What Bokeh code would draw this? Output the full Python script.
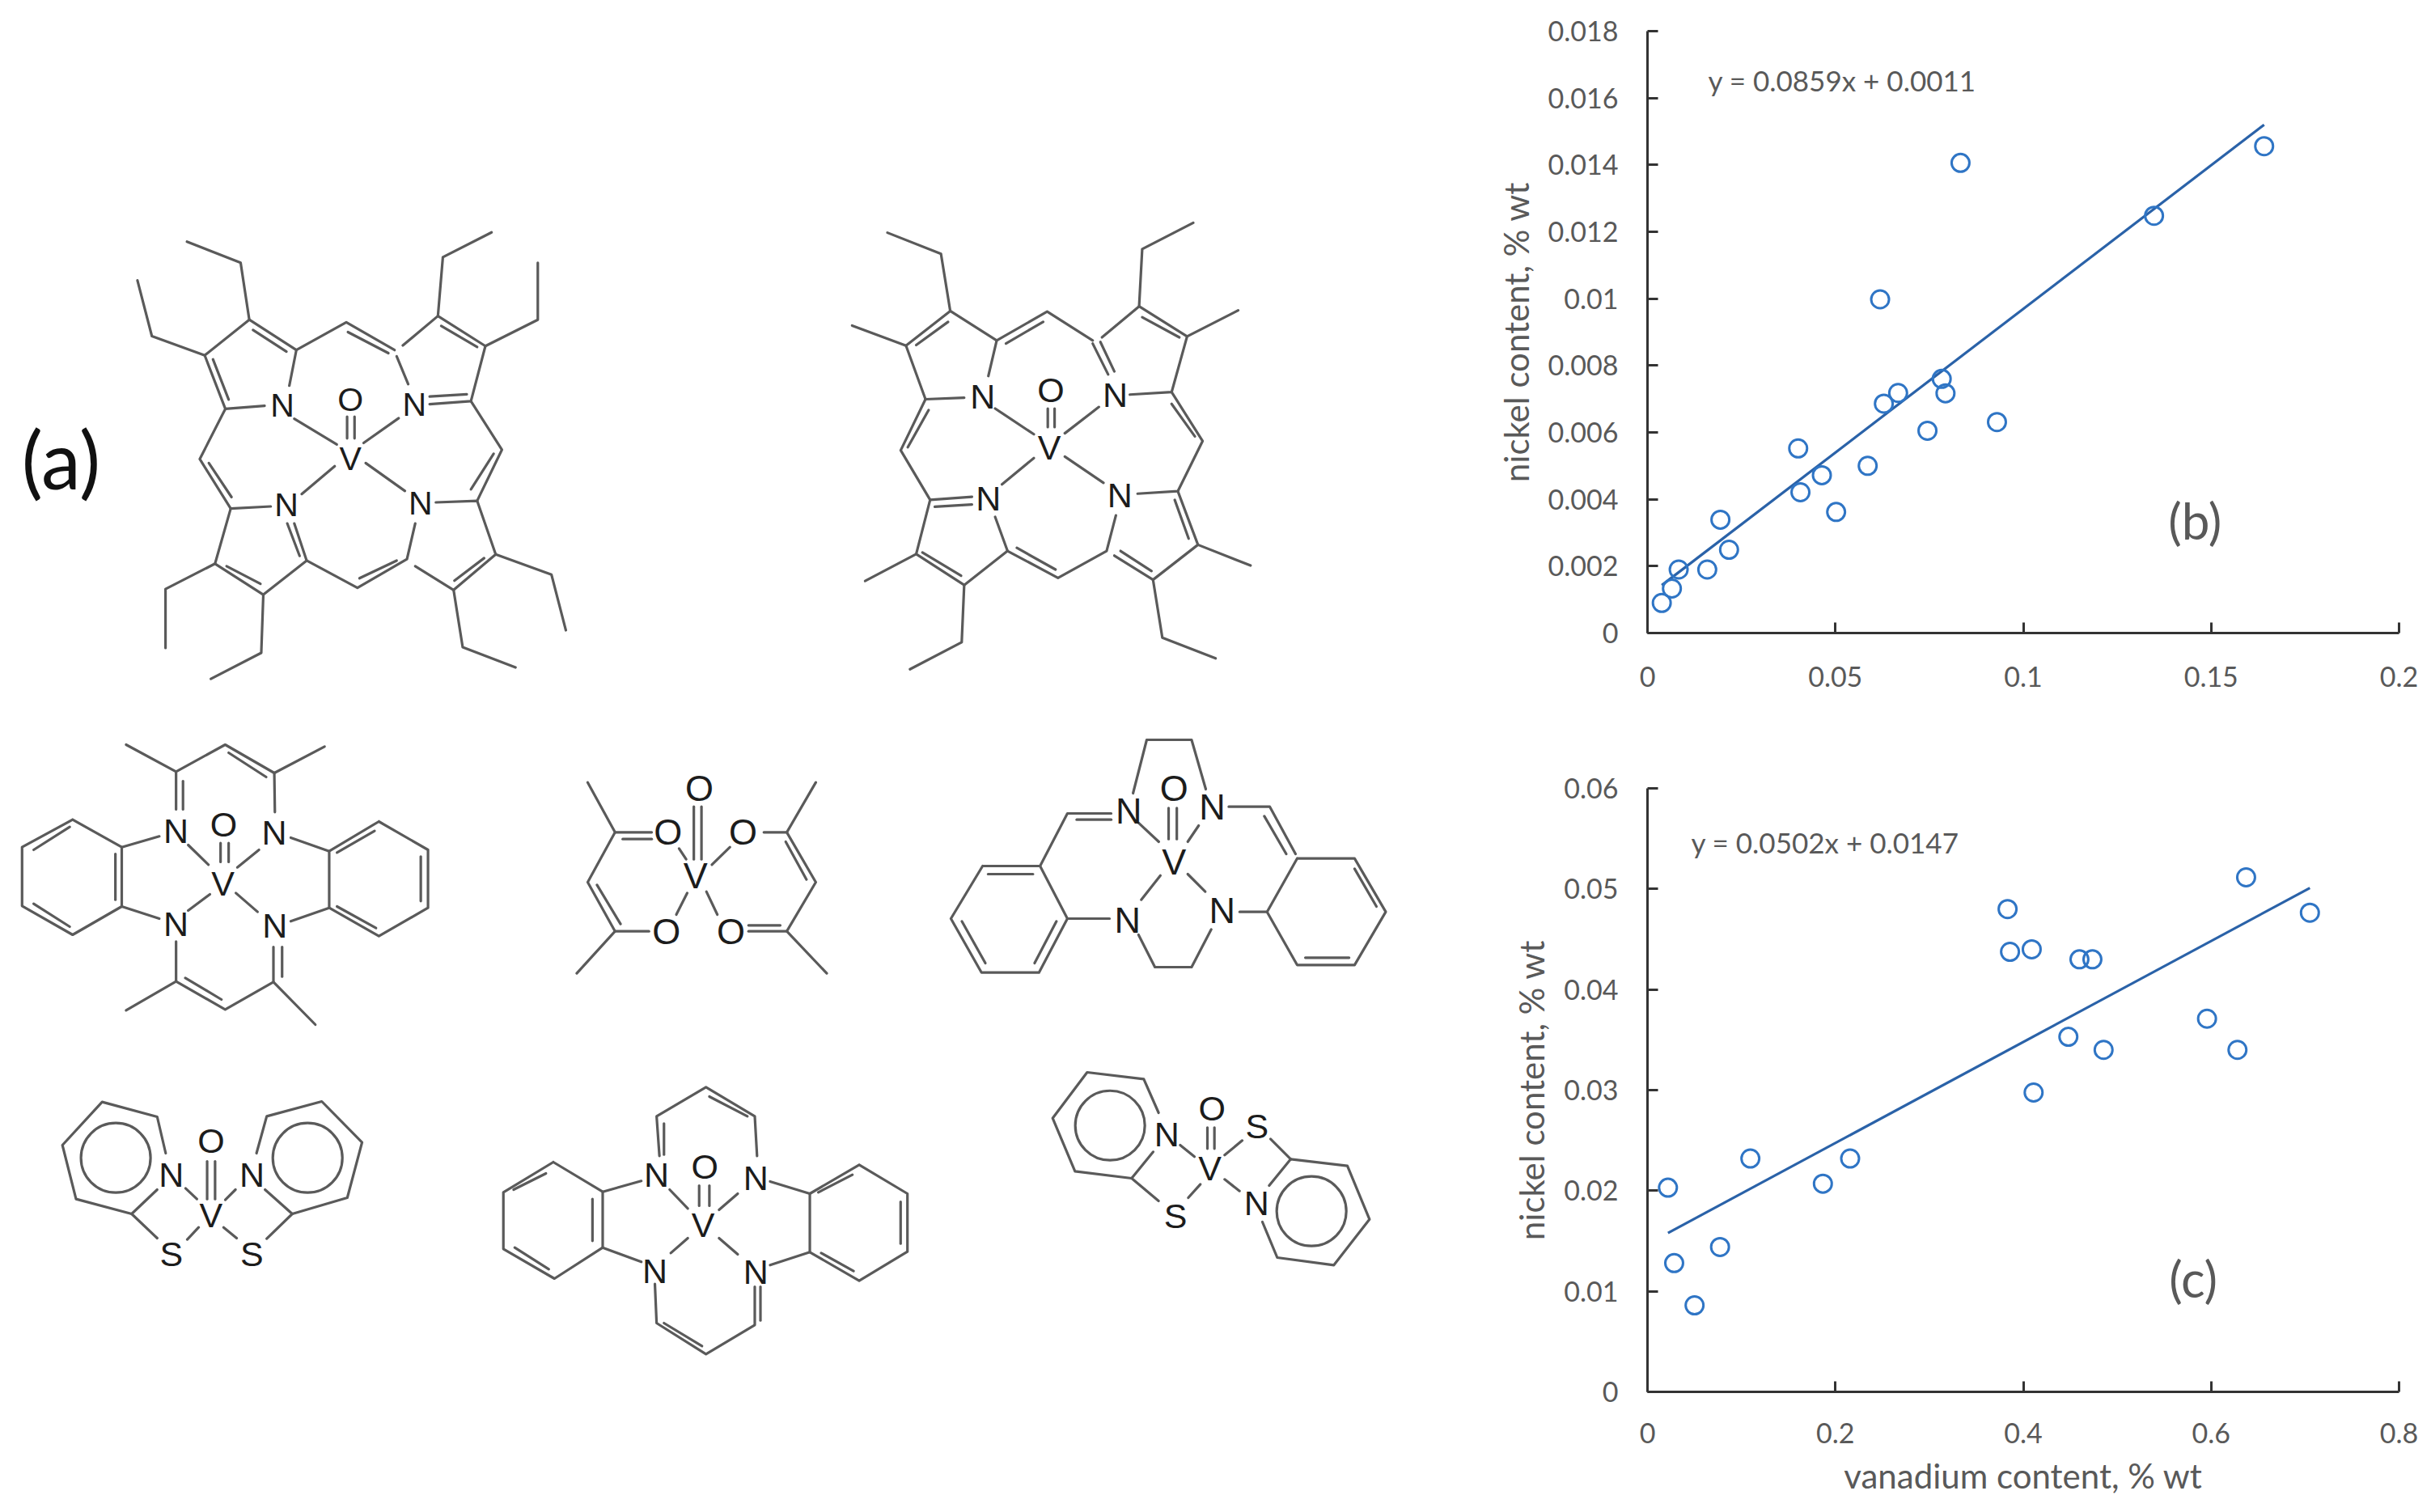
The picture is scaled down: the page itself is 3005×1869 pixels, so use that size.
from bokeh.plotting import figure
from bokeh.layouts import row, column
from bokeh.models import Range1d, FixedTicker
from bokeh.core.properties import value
from bokeh.embed import file_html
from bokeh.resources import INLINE

# ---------------- data of the two scatter panels ----------------
b_x = [0.0038,0.0065,0.0083,0.0159,0.0194,0.0217,0.0401,0.0407,0.0464,0.0502,0.0586,
       0.0619,0.0629,0.0667,0.0745,0.0783,0.0793,0.0833,0.0930,0.1348,0.1641]
b_y = [0.0009,0.00133,0.0019,0.0019,0.00339,0.00249,0.00552,0.00421,0.00472,0.00362,0.0050,
       0.00998,0.00686,0.00718,0.00605,0.0076,0.00717,0.01406,0.00631,0.01248,0.01456]
b_trend_x = [0.0038,0.1641]
b_trend_y = [0.00143,0.0152]
b_xticks = [0,0.05,0.1,0.15,0.2]
b_xlabels = ["0","0.05","0.1","0.15","0.2"]
b_yticks = [0,0.002,0.004,0.006,0.008,0.01,0.012,0.014,0.016,0.018]
b_ylabels = ["0","0.002","0.004","0.006","0.008","0.01","0.012","0.014","0.016","0.018"]

c_x = [0.0218,0.0284,0.0501,0.0772,0.1095,0.1867,0.2157,0.3833,0.3859,0.409,0.411,
       0.448,0.4598,0.4736,0.4855,0.5956,0.628,0.6372,0.7051]
c_y = [0.0203,0.0128,0.0086,0.0144,0.0232,0.0207,0.0232,0.0480,0.04375,0.044,0.02976,
       0.0353,0.043,0.043,0.034,0.0371,0.034,0.05115,0.04764]
c_trend_x = [0.0218,0.7051]
c_trend_y = [0.0158,0.0501]
c_xticks = [0,0.2,0.4,0.6,0.8]
c_xlabels = ["0","0.2","0.4","0.6","0.8"]
c_yticks = [0,0.01,0.02,0.03,0.04,0.05,0.06]
c_ylabels = ["0","0.01","0.02","0.03","0.04","0.05","0.06"]

y_title = "nickel content, % wt"
x_title = "vanadium content, % wt"
b_equation = "y = 0.0859x + 0.0011"
c_equation = "y = 0.0502x + 0.0147"

# ---------------- structural formulas (traced drawing) ----------------
porphyrin_et = dict(o=(0,260), f=(1.96,2.613), size=41, lines=[
 [(700,565),(717,450),(603,352),(495,467),(545,640),(640,630)],
 [(612,385),(693,455)],[(515,480),(553,610)],
 [(603,352),(582,168),(452,100)],[(495,467),(367,405),(332,225)],
 [(717,450),(838,360),(955,450)],[(842,392),(940,460)],
 [(975,435),(1060,340),(1175,437),(1140,615),(1040,625)],[(1040,600),(1130,593)],[(960,470),(988,560)],
 [(1068,372),(1155,440)],
 [(1060,340),(1072,150),(1190,70)],[(1175,437),(1302,352),(1302,168)],
 [(1140,615),(1215,772),(1155,937)],[(1195,785),(1140,900)],
 [(1055,942),(1155,937),(1200,1110),(1098,1225),(1005,1148)],[(1172,1122),(1100,1195)],
 [(1005,1010),(985,1125),(865,1218),(742,1130)],[(960,1130),(870,1187)],
 [(1200,1110),(1335,1175),(1370,1355)],[(1098,1225),(1120,1410),(1248,1475)],
 [(655,955),(558,962),(520,1140),(637,1240),(742,1130),(712,1010)],[(695,1010),(725,1115)],[(548,1148),(630,1205)],
 [(520,1140),(400,1222),(400,1412)],[(637,1240),(632,1428),(510,1512)],
 [(545,640),(483,802),(558,962)],[(505,815),(560,925)],
 [(712,672),(815,755)],[(965,670),(880,750)],[(810,825),(730,915)],[(885,815),(980,905)],
 [(840,665),(840,735)],[(858,665),(858,735)],
], atoms=[("N",683,628),("N",1003,625),("N",1018,945),("N",693,950),("O",848,610),("V",848,800)], rings=[])

porphyrin_me = dict(o=(1000,250), f=(2.613,2.613), size=43, lines=[
 [(578,560),(605,445),(455,350),(312,462),(375,635),(500,630)],[(448,385),(345,460)],
 [(455,350),(425,165),(252,97)],[(312,462),(138,397)],
 [(605,445),(768,352),(915,445)],[(635,455),(755,385)],
 [(945,435),(1065,335),(1220,432),(1170,612),(1035,620)],[(1075,370),(1195,435)],
 [(1065,335),(1075,150),(1240,65)],[(1220,432),(1385,348)],
 [(915,455),(965,555)],[(940,450),(985,545)],
 [(1170,612),(1270,770),(1190,932),(1060,940)],[(1170,650),(1245,755)],
 [(1190,932),(1255,1105),(1110,1218),(985,1140)],[(1225,1085),(1180,960)],[(1005,1125),(1105,1190)],
 [(1255,1105),(1425,1172)],[(1110,1218),(1140,1405),(1312,1472)],
 [(990,1010),(960,1125),(803,1212),(640,1125),(600,1015)],[(670,1115),(795,1185)],
 [(640,1125),(500,1235),(345,1135),(390,960),(525,950)],[(365,1130),(490,1205)],[(405,982),(525,975)],
 [(345,1135),(180,1222)],[(500,1235),(492,1420),(325,1507)],
 [(375,635),(295,800),(390,960)],[(385,670),(318,790)],
 [(600,665),(725,748)],[(935,660),(825,745)],[(725,825),(622,910)],[(825,820),(950,905)],
 [(770,665),(770,725)],[(792,665),(792,725)],
], atoms=[("N",560,625),("N",988,620),("N",578,955),("N",1003,945),("O",780,605),("V",775,790)], rings=[])

salen_me = dict(o=(0,890), f=(2.8,3.0), size=43, lines=[
 [(250,368),(75,470),(75,688),(250,795),(420,690),(420,470),(250,368)],
 [(115,480),(240,395)],[(115,680),(240,765)],[(398,495),(398,665)],
 [(420,470),(550,430)],[(420,690),(550,735)],
 [(1310,375),(1138,485),(1138,695),(1310,800),(1480,695),(1480,480),(1310,375)],
 [(1165,490),(1295,410)],[(1165,690),(1300,770)],[(1455,505),(1455,670)],
 [(1005,435),(1138,485)],[(1005,745),(1138,695)],
 [(608,330),(608,190),(778,90),(948,195),(950,340)],[(632,225),(632,330)],[(790,120),(920,210)],
 [(608,190),(435,90)],[(948,195),(1122,97)],
 [(608,820),(608,968),(778,1072),(945,970),(945,840)],[(975,950),(975,840)],[(640,955),(765,1035)],
 [(608,968),(435,1075)],[(945,970),(1090,1128)],
 [(650,462),(720,535)],[(895,480),(820,545)],[(725,645),(650,705)],[(815,640),(890,710)],
 [(762,455),(762,525)],[(790,455),(790,525)],
], atoms=[("N",608,408),("N",948,415),("N",608,755),("N",950,760),("O",773,385),("V",770,605)], rings=[])

acac = dict(o=(680,900), f=(1.479,3.0), size=45, lines=[
 [(68,200),(118,385),(68,570),(118,752),(48,908)],
 [(118,385),(185,385)],[(132,410),(185,410)],[(85,580),(128,725)],[(118,752),(180,752)],
 [(390,385),(432,385),(485,570),(432,752),(505,908)],[(432,385),(485,200)],
 [(430,420),(468,560)],[(362,752),(432,752)],[(362,730),(420,730)],
 [(262,290),(262,485)],[(276,290),(276,485)],
 [(235,445),(248,485)],[(328,440),(295,505)],[(250,610),(230,690)],[(285,605),(305,690)],
], atoms=[("O",272,222),("O",215,385),("O",352,385),("V",265,545),("O",212,752),("O",330,752)], rings=[])

salen_h = dict(o=(680,900), f=(1.479,3.0), size=45, lines=[
 [(1065,240),(1090,42),(1172,42),(1198,225)],
 [(1025,315),(945,315),(895,510)],[(962,338),(1025,338)],
 [(1240,290),(1315,290),(1362,465)],[(1305,325),(1345,465)],
 [(790,510),(895,510),(945,705),(893,905),(788,905),(732,705),(790,510)],
 [(800,540),(882,540)],[(925,715),(885,870)],[(795,870),(752,715)],
 [(945,705),(1022,705)],
 [(1075,765),(1105,885),(1172,885),(1208,745)],
 [(1260,680),(1310,680)],
 [(1365,482),(1470,482),(1527,680),(1470,877),(1365,877),(1310,680),(1365,482)],
 [(1470,520),(1510,660)],[(1380,850),(1460,850)],
 [(1075,350),(1112,420)],[(1185,360),(1165,420)],[(1115,545),(1080,635)],[(1165,540),(1197,605)],
 [(1130,295),(1130,410)],[(1145,295),(1145,410)],
], atoms=[("O",1140,222),("N",1057,305),("N",1210,292),("V",1140,495),("N",1055,710),("N",1228,675)], rings=[])

thio_cis = dict(o=(50,1300), f=(1.4255,3.0), size=43, lines=[
 [(220,375),(205,240),(108,185),(38,345),(62,545),(160,600),(205,510)],
 [(160,600),(205,690)],
 [(380,375),(398,238),(495,183),(566,335),(540,540),(443,600),(395,510)],
 [(443,600),(398,692)],
 [(293,405),(293,545)],[(307,405),(307,545)],
 [(255,505),(275,545)],[(343,510),(325,548)],[(278,650),(258,695)],[(322,650),(345,690)],
], atoms=[("O",300,328),("N",230,455),("N",372,455),("V",300,605),("S",230,748),("S",372,748)],
 rings=[(132,392),(470,392)])

salophen_h = dict(o=(50,1300), f=(1.4255,3.0), size=43, lines=[
 [(903,408),(815,520),(815,730),(905,840),(990,725),(990,518),(903,408)],
 [(890,450),(833,510)],[(835,725),(895,805)],[(972,545),(972,700)],
 [(990,518),(1058,478)],[(990,725),(1058,778)],
 [(1442,418),(1355,525),(1355,742),(1442,848),(1527,740),(1527,525),(1442,418)],
 [(1370,520),(1430,455)],[(1375,745),(1432,812)],[(1515,555),(1515,710)],
 [(1285,480),(1355,525)],[(1285,790),(1355,742)],
 [(1090,385),(1085,238),(1172,130),(1258,238),(1262,385)],[(1098,265),(1098,380)],[(1178,165),(1245,238)],
 [(1082,860),(1085,1005),(1172,1120),(1258,1012),(1258,870)],[(1268,870),(1268,995)],[(1098,1005),(1165,1090)],
 [(1160,495),(1160,570)],[(1178,495),(1178,570)],
 [(1108,510),(1140,580)],[(1228,525),(1195,585)],[(1140,690),(1110,745)],[(1195,690),(1228,750)],
], atoms=[("O",1170,425),("N",1085,455),("N",1260,465),("V",1167,640),("N",1082,810),("N",1260,815)], rings=[])

thio_trans = dict(o=(1270,1300), f=(3.0,3.0), size=43, lines=[
 [(485,225),(430,100),(220,75),(92,245),(175,442),(385,468),(465,370)],
 [(385,468),(485,552)],
 [(895,495),(975,397),(1185,422),(1267,620),(1135,790),(925,762),(870,630)],
 [(975,397),(900,322)],
 [(666,280),(666,358)],[(692,280),(692,358)],
 [(565,345),(618,388)],[(795,328),(730,382)],[(640,490),(595,540)],[(730,472),(785,515)],
], atoms=[("O",683,208),("N",515,305),("S",850,275),("V",675,430),("S",548,608),("N",848,560)],
 rings=[(305,272),(1052,590)])

structures = [porphyrin_et, porphyrin_me, salen_me, acac, salen_h, thio_cis, salophen_h, thio_trans]

BOND = "#5a5a5a"
ATOM = "#1c1c1c"
SANS = value("Liberation Sans")

LEFT_W = 1836
left = figure(width=LEFT_W, height=1861, x_range=Range1d(0,LEFT_W), y_range=Range1d(1861,0),
              output_backend="svg", toolbar_location=None, min_border=0,
              outline_line_color=None, background_fill_color="white")
left.axis.visible = False
left.grid.visible = False

for s in structures:
    ox, oy = s["o"]; fx, fy = s["f"]
    xs = [[ox + x/fx for x, y in pl] for pl in s["lines"]]
    ys = [[oy + y/fy for x, y in pl] for pl in s["lines"]]
    left.multi_line(xs, ys, line_color=BOND, line_width=3.2, line_cap="round", line_join="round")
    left.text([ox + a[1]/fx for a in s["atoms"]], [oy + a[2]/fy for a in s["atoms"]],
              text=[a[0] for a in s["atoms"]], text_font=SANS,
              text_font_size=f'{s["size"]}px', text_color=ATOM,
              text_align="center", text_baseline="middle")
    if s["rings"]:
        left.circle([ox + r[0]/fx for r in s["rings"]], [oy + r[1]/fy for r in s["rings"]],
                    radius=43, fill_color=None, line_color=BOND, line_width=3.2)

left.text([75], [566], text=["(a)"], text_font=value("Lato"), text_font_size="98px",
          text_color="#111111", text_align="center", text_baseline="middle")

TXT = "#595959"
MARK = "#2F75C5"
TREND = "#2A62A8"
AXIS = "#333333"
FONT = "Lato"

def panel(w, h, ml, mr, mt, mb, xmax, ymax, xs, ys, tx, ty, xt, xl, yt, yl, eq, eq_xy, tag, tag_xy, xtitle, xstand):
    p = figure(width=w, height=h, x_range=Range1d(0,xmax), y_range=Range1d(0,ymax),
               output_backend="svg", toolbar_location=None,
               min_border_left=ml, min_border_right=mr, min_border_top=mt, min_border_bottom=mb,
               outline_line_color=None)
    p.grid.visible = False
    p.line(tx, ty, line_color=TREND, line_width=3.2)
    p.scatter(xs, ys, marker="circle", size=22, fill_color=None, line_color=MARK, line_width=3)
    p.xaxis.ticker = FixedTicker(ticks=xt)
    p.yaxis.ticker = FixedTicker(ticks=yt)
    p.xaxis.major_label_overrides = dict(zip(xt, xl))
    p.yaxis.major_label_overrides = dict(zip(yt, yl))
    for ax in (p.xaxis[0], p.yaxis[0]):
        ax.axis_line_color = AXIS; ax.axis_line_width = 3
        ax.major_tick_line_color = AXIS; ax.major_tick_line_width = 3
        ax.major_tick_in = 13; ax.major_tick_out = 0
        ax.minor_tick_line_color = None
        ax.major_label_text_font = FONT; ax.major_label_text_font_size = "34px"
        ax.major_label_text_color = TXT
        ax.axis_label_text_font = FONT; ax.axis_label_text_font_size = "42px"
        ax.axis_label_text_color = TXT; ax.axis_label_text_font_style = "normal"
    p.xaxis.major_label_standoff = xstand
    p.yaxis.major_label_standoff = 36
    p.yaxis.axis_label = y_title
    p.yaxis.axis_label_standoff = 12
    if xtitle:
        p.xaxis.axis_label = xtitle
        p.xaxis.axis_label_standoff = 12
    p.text([eq_xy[0]], [eq_xy[1]], text=[eq], text_font=value(FONT), text_font_size="35px",
           text_color=TXT, text_align="left", text_baseline="middle")
    p.text([tag_xy[0]], [tag_xy[1]], text=[tag], text_font=value(FONT), text_font_size="62px",
           text_color=TXT, text_align="center", text_baseline="middle")
    return p

pb = panel(1161, 905, 200, 32, 38, 123, 0.2, 0.018, b_x, b_y, b_trend_x, b_trend_y,
           b_xticks, b_xlabels, b_yticks, b_ylabels, b_equation, (0.01615, 0.01654),
           "(b)", (0.1457, 0.00338), None, 41)
pc = panel(1161, 960, 200, 29, 69, 145, 0.8, 0.06, c_x, c_y, c_trend_x, c_trend_y,
           c_xticks, c_xlabels, c_yticks, c_ylabels, c_equation, (0.0464, 0.05465),
           "(c)", (0.581, 0.0113), x_title, 38)

page = row(left, column(pb, pc, spacing=0), spacing=0)
open("out.html", "w").write(file_html(page, INLINE))
